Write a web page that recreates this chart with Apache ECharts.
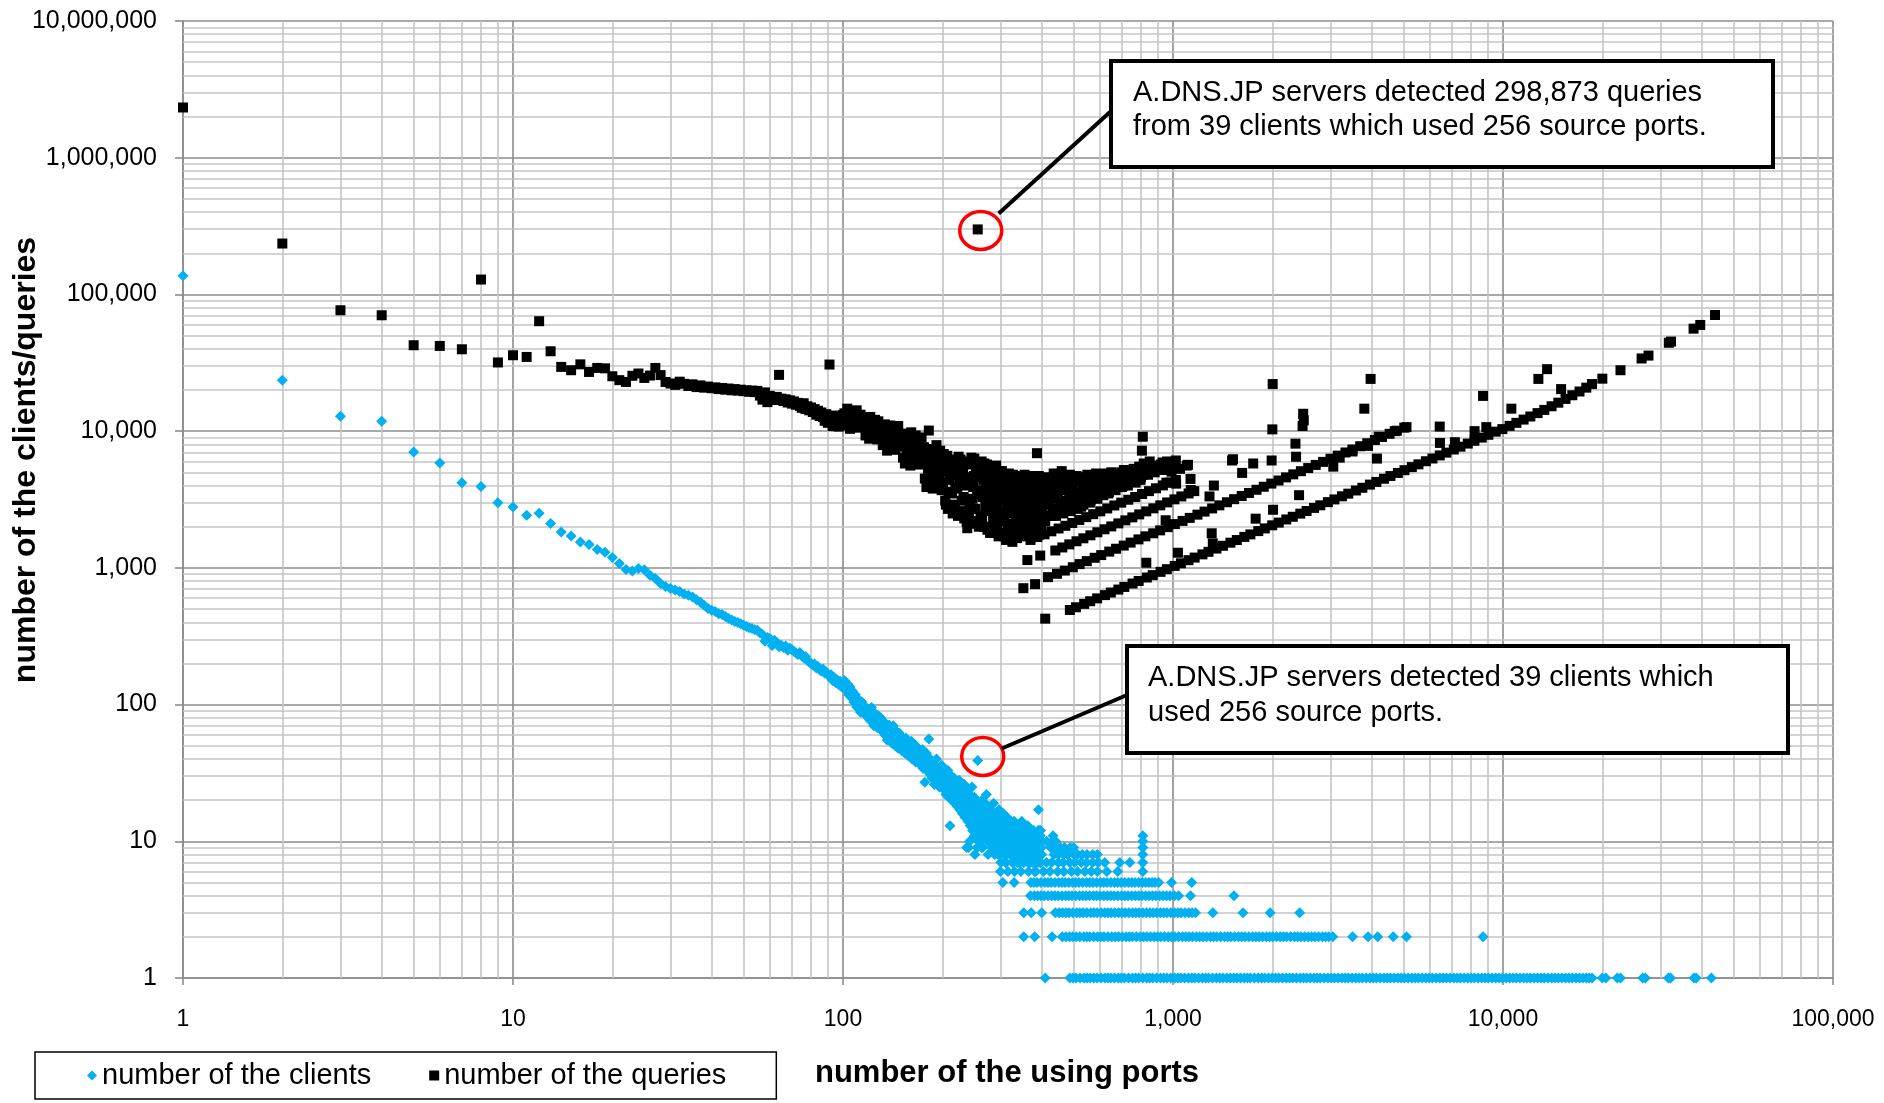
<!DOCTYPE html>
<html><head><meta charset="utf-8">
<script src="https://cdn.jsdelivr.net/npm/echarts@6.0.0/dist/echarts.min.js"></script>
<style>html,body{margin:0;padding:0;background:#fff}#main{width:1884px;height:1103px}</style>
</head><body><div id="main"></div>
<script>
// ---------- tick values ----------
const xTicks = [1, 10, 100, 1000, 10000, 100000];
const yTicks = [1, 10, 100, 1000, 10000, 100000, 1000000, 10000000];
const minorMultipliers = [2, 3, 4, 5, 6, 7, 8, 9];

// ---------- number of the clients ----------
const clientsHead = [[1,137000],[2,23600],[3,12850],[4,11800],[5,7050],[6,5850],[7,4200],[8,3940],[9,3000],[10,2790],
[11,2430],[12,2510],[13,2110],[14,1830],[15,1710],[16,1545],[17,1480],[18,1360],[19,1300],[20,1190],
[21,1075],[22,972],[23,949],[24,988],[25,970],[26,883],[27,835],[28,768],[29,730],[30,706],
[31,690],[32,672],[33,645],[34,630],[35,612],[36,585],[37,560],[38,530],[39,505],[40,490],
[41,480],[42,462],[43,455],[44,440],[45,426],[46,415],[47,405],[48,398],[49,390],[50,380],
[51,372],[52,365],[53,360],[54,352],[55,349],[56,335],[57,325],[58,290],[59,310],[60,304],
[61,270],[62,295],[63,285],[64,265],[65,272],[66,262],[67,268],[68,250],[69,258],[70,252],
[71,245],[72,238],[73,232],[74,240],[75,228],[76,220],[77,225],[78,210],[79,205],[80,200],
[81,195],[82,198],[83,185],[84,190],[85,180],[86,176],[87,182],[88,170],[89,172],[90,166],
[91,160],[92,165],[93,150],[94,158],[95,145],[96,152],[97,140],[98,148],[99,135],[100,138]];

const clientsBand = [[101,150],[102,128],[103,142],[104,118],[105,135],[106,112],[107,125],[108,104],[109,118],[110,96],
[111,110],[112,100],[113,88],[114,105],[115,92],[116,98],[117,84],[118,94],[119,80],[120,90],
[121,76],[122,95],[123,82],[124,70],[125,86],[126,78],[127,68],[128,83],[129,72],[130,80],
[131,64],[132,76],[133,74],[134,60],[135,72],[136,55],[137,68],[138,71],[139,58],[140,66],
[141,52],[142,70],[143,60],[144,50],[145,64],[146,56],[147,48],[148,62],[149,53],[150,58],
[151,46],[152,55],[153,50],[154,44],[155,57],[156,48],[157,52],[158,42],[159,50],[160,45],
[161,54],[162,40],[163,47],[164,43],[165,51],[166,38],[167,45],[168,41],[169,48],[170,39],
[171,44],[172,36],[173,42],[174,47],[175,34],[176,40],[177,27],[178,38],[179,44],[180,33],
[181,37],[182,56],[183,31],[184,40],[185,35],[186,29],[187,38],[188,33],[189,26],[190,36],
[191,31],[192,40],[193,28],[194,34],[195,30],[196,25],[197,33],[198,29],[199,36],[200,27],
[201,31],[202,24],[203,34],[204,28],[205,22],[206,30],[207,26],[208,33],[209,21],[210,27],
[211,13],[212,24],[213,30],[214,20],[215,26],[216,23],[217,29],[218,19],[219,25],[220,22],
[221,27],[222,18],[223,24],[224,21],[225,28],[226,17],[227,23],[228,20],[229,25],[230,16],
[231,22],[232,19],[233,26],[234,15],[235,21],[236,18],[237,9],[238,24],[239,14],[240,20],
[241,17],[242,22],[243,13],[244,19],[245,16],[246,25],[247,12],[248,18],[249,15],[250,21],
[251,8],[252,14],[253,17],[254,11],[255,19],[256,39],[257,13],[258,16],[259,10],[260,18],
[262,14],[264,20],[266,11],[268,16],[270,13],[272,22],[274,10],[276,15],[278,12],[280,17],
[282,9],[284,14],[286,19],[288,11],[290,13],[292,16],[294,10],[296,12],[298,15],[300,9],
[302,14],[304,11],[306,16],[308,8],[310,13],[312,10],[314,15],[316,12],[318,9],[320,11],
[322,14],[325,10],[328,12],[331,8],[334,13],[337,9],[340,11],[343,7],[346,12],[349,10],
[352,8],[355,13],[358,9],[361,11],[364,7],[367,10],[370,12],[373,8],[376,9],[379,11],
[382,7],[385,10],[388,8],[391,17],[394,9],[397,12],[400,8]];
const clientsBandExtra = [[261,12],[263,17],[265,9],[267,14],[269,19],[271,11],[273,15],[275,8],[277,18],[279,13],
[281,10],[283,16],[285,12],[287,9],[289,15],[291,11],[293,14],[295,8],[297,17],[299,10],
[301,12],[303,9],[305,15],[307,11],[309,13],[311,7],[313,12],[315,9],[317,14],[319,10],
[321,8],[323,12],[324,9],[326,13],[327,7],[329,10],[330,14],[332,9],[333,11],[335,8],
[336,12],[338,10],[339,7],[341,13],[342,9],[344,11],[345,8],[347,10],[348,14],[350,9],
[351,11],[353,7],[354,12],[356,9],[357,10],[359,8],[360,12],[362,9],[363,13],[365,8],
[366,11],[368,9],[369,7],[371,10],[372,8],[374,11],[375,7],[377,9],[378,12],[380,8],
[381,10],[383,9],[384,6],[386,11],[387,8],[389,10],[390,7],[392,9],[393,12],[395,8],
[396,10],[398,7],[399,9]];

// ports at which a given small client count was observed
const row1Ports = [410,487,508,538,561,589,622,648,683,712,754,787,833,868,917,958,1012,1057,1114,1163,1228,1281,1354,1417,1493,1561,1645,1716,1813,1897,1998,2091,2204,2306,2431,2540,2676,2795,2947,3084,3251,3398,3583,3748,3952,4133,4358,4559,4803,5028,5294,5543,5839,6112,6433,6738,7094,7431,7822,8191,8623,9031,9504,9957,10472,10978,11548,12103,12729,13341,14035,14712,15470,16221,17055,17881,18612,20000,20500,22200,22700,26500,27000,31700,32200,37900,38500,42800];
const row1PortsB = [498,523,549,575,605,635,665,697,733,770,810,850,892,937,985,1035,1085,1140,1195,1255,1318,1385,1455,1527,1603,1680,1765,1855,1948,2045,2147,2255,2368,2485,2608,2735,2870,3015,3167,3325,3490,3665,3850,4042,4245,4458,4680,4915,5160,5418,5690,5975,6272,6585,6915,7262,7625,8005,8405,8825,9265,9730,10215,10725,11262,11825,12415,13035,13685,14370,15090,15845,16635,17465,18250];
const row2Ports = [353,381,430,462,486,509,537,559,591,618,652,684,721,753,796,833,877,918,967,1013,1068,1118,1177,1232,1298,1357,1433,1497,1578,1652,1743,1822,1918,2006,2113,2211,2334,2441,2569,2690,2834,2966,3050,3500,3900,4170,4650,5100,8700];
const row2PortsB = [474,497,522,548,575,604,635,668,702,737,774,814,855,897,942,990,1040,1093,1147,1204,1265,1327,1395,1465,1537,1615,1697,1782,1870,1962,2060,2162,2272,2387,2505,2630,2762,2900];
const row3Ports = [353,372,400,440,463,484,511,534,563,589,621,649,684,716,754,789,831,871,916,959,1011,1058,1116,1170,1320,1630,1970,2420];
const row3PortsB = [452,474,497,522,548,576,605,635,666,700,735,771,810,851,893,937,985,1035,1087,1143];
const row4Ports = [370,389,407,429,449,473,494,521,545,574,601,633,663,698,731,769,805,847,887,933,979,1040,1130,1530];
const row4PortsB = [380,398,418,439,461,483,507,533,559,587,617,648,680,714,750,787,826,867,910,956,1010];
const row5Ports = [305,330,371,387,409,427,451,471,496,519,547,572,603,631,665,696,733,767,807,845,882,905,990,1140];
const row5PortsB = [379,398,418,439,461,483,507,533,559,587,617,648,680,714,750,787,826,864];
const row6Ports = [300,316,331,346,365,381,405,424,447,467,492,514,541,565,590,630,680,810];
const row7Ports = [301,312,326,337,353,365,382,396,414,429,449,465,486,504,527,547,571,593,621,690,740,810];
const row8Ports = [288,300,313,324,361,372,386,396,436,449,466,479,501,514,531,549,571,590,810];
const row9Ports = [240,255,263,295,306,317,329,366,380,395,426,440,456,469,488,500,810];
const row10Ports = [242,257,291,304,331,344,361,379,401,414,431,441,810];
const row11Ports = [250,268,285,362,380,396,433,810];
const row12Ports = [268,282,299,325,342,359,390];
const clientRows = [[1,row1Ports],[1,row1PortsB],[2,row2Ports],[2,row2PortsB],[3,row3Ports],[3,row3PortsB],
  [4,row4Ports],[4,row4PortsB],[5,row5Ports],[5,row5PortsB],[6,row6Ports],
  [7,row7Ports],[8,row8Ports],[9,row9Ports],[10,row10Ports],[11,row11Ports],[12,row12Ports]];

// ---------- number of the queries ----------
const queriesHead = [[1,2330000],[2,235700],[3,76600],[4,70400],[5,42500],[6,42000],[7,39700],[8,128500],[9,31800],[10,35900],
[11,34900],[12,63700],[13,38400],[14,29500],[15,27900],[16,30800],[17,27100],[18,29000],[19,28800],[20,25200],
[21,23600],[22,22900],[23,25400],[24,26400],[25,24500],[26,25500],[27,29000],[28,25700],[29,22900],[30,22300],
[31,21800],[32,23000],[33,22200],[34,21400],[35,22000],[36,21000],[37,21600],[38,20800],[39,21200],[40,20600],
[41,20900],[42,20300],[43,20700],[44,20100],[45,20500],[46,19900],[47,20300],[48,19800],[49,20100],[50,19600],
[51,19900],[52,19400],[53,19800],[54,19300],[55,19700],[56,18200],[57,17000],[58,19200],[59,16300],[60,18100],
[61,17500],[62,16900],[63,17800],[64,25800],[65,17300],[66,16600],[67,17100],[68,16200],[69,16800],[70,15900],
[71,16500],[72,15600],[73,16100],[74,15300],[75,14800],[76,16000],[77,14500],[78,15200],[79,14200],[80,14900],
[81,13800],[82,14500],[83,13200],[84,14100],[85,12900],[86,13700],[87,12700],[88,11900],[89,13300],[90,11500],
[91,30700],[92,12400],[93,10900],[94,13000],[95,11800],[96,12600],[97,10800],[98,12200],[99,11300],[100,13100]];

const queriesCluster = [[101,13500],[102,11000],[103,14600],[104,12200],[105,10400],[106,13900],[107,11700],[108,12800],[109,10900],[110,14200],
[111,12000],[112,10600],[113,13200],[114,11400],[115,12600],[116,12400],[117,9300],[118,11600],[119,10200],[120,8800],
[121,12700],[122,9800],[123,11100],[124,9000],[125,12100],[126,10500],[127,8700],[128,11800],[129,9500],[130,10800],
[131,10800],[132,7900],[133,9600],[134,11200],[135,8400],[136,7200],[137,10100],[138,8900],[139,11000],[140,7600],
[141,9200],[142,10500],[143,8100],[144,7300],[145,9900],[146,8600],[147,10900],[148,7700],[149,9400],[150,8300],
[151,9600],[152,6400],[153,8200],[154,5800],[155,9100],[156,7000],[157,6000],[158,8700],[159,7500],[160,5600],
[161,9800],[162,6700],[163,8000],[164,6200],[165,7300],[166,9300],[167,5900],[168,7800],[169,6500],[170,8500],
[171,5700],[172,7100],[173,9000],[174,6300],[175,7600],[176,7600],[177,4500],[178,6200],[179,3900],[180,7100],
[181,5300],[182,10100],[183,4100],[184,6700],[185,4800],[186,5800],[187,3800],[188,7400],[189,5000],[190,6000],
[191,4300],[192,7900],[193,5500],[194,4000],[195,6500],[196,4600],[197,7200],[198,5100],[199,3700],[200,6300],
[202,6800],[204,3100],[206,5200],[208,2700],[210,4400],[211,2800],[212,6200],[214,3500],[216,5600],[218,2900],
[220,4800],[222,3800],[224,6500],[226,2600],[228,4200],[230,5300],[232,3300],[234,6000],[236,2400],[237,2170],
[238,1950],[240,4600],[242,3000],[244,5700],[246,2200],[248,3900],[250,6300],[252,2700],[254,4900],[256,298873],
[257,3400],[258,2000],[260,5400],[262,3600],[264,2300],[266,4400],[268,5800],[270,2800],[272,3900],[274,1900],
[276,5000],[278,3100],[280,4300],[282,1800],[284,5500],[286,2500],[288,3700],[290,2100],[292,4700],[294,3000],
[296,1700],[298,4100],[300,2600],[302,4600],[304,1800],[306,3200],[308,2300],[310,4200],[312,1600],[314,3600],
[316,2700],[318,4900],[320,2000],[323,3900],[326,1550],[329,2900],[332,4500],[335,2200],[338,3400],[341,1700],
[344,4100],[347,2600],[350,3000],[355,4800],[358,1900],[361,3700],[364,2400],[367,4300],[373,3300],[376,2800],
[379,4600],[385,2100],[387,6900],[390,3800],[393,1750],[398,3100],[400,4400],
[405,3500],[410,2200],[415,4600],[420,2900],[425,3900],[430,2400],[435,4900],[440,3200],[445,2600],[450,4200],
[455,3000],[460,5100],[465,2500],[470,3700],[475,2800],[480,4500],[485,3300],[490,2600],[495,4000],[500,3100],
[510,4700],[515,2700],[520,3600],[530,4300],[535,2900],[540,3300],[550,4800],[555,3900],[560,3000],[570,4400],
[580,3500],[585,4900],[590,3200],[600,4100],[610,4800],[615,3400],[620,3800],[630,4500],[640,3600],[650,5000],
[660,4000],[670,3700],[680,4200],[690,4700],[700,3900],[710,5200],[720,4300],[730,4000],[740,4800],[750,4400],
[760,5300],[770,4200],[780,4900],[790,5500],[800,4600],[820,5000],[830,5400],[840,4800],[850,6000],[860,5200],
[870,5600],[880,5000],[900,5300],[920,5700],[940,5200],[960,6000],[980,5400],[1000,5500],[1050,5300],[1100,5600]];
const queriesClusterExtra = [[201,4200],[203,5900],[205,2900],[207,6600],[209,3600],[213,4900],[215,2500],[217,6100],[219,3900],[221,5400],
[223,2400],[225,4500],[227,6200],[229,3100],[231,5000],[233,2300],[235,4000],[239,5900],[241,2600],[243,4300],
[245,6400],[247,3200],[249,4700],[251,2100],[253,5200],[255,3700],[259,4600],[261,2400],[263,6000],[265,3300],
[267,2000],[269,4900],[271,3500],[273,5700],[275,2600],[277,4100],[279,1800],[281,5200],[283,3400],[285,2200],
[287,4800],[289,2900],[291,5600],[293,1900],[295,3800],[297,5100],[299,2300],
[301,3500],[303,5100],[305,2200],[307,4000],[309,1700],[311,3100],[313,4700],[315,2000],[317,3900],[319,2500],
[321,4400],[322,1800],[324,3200],[325,2700],[327,4800],[328,2100],[330,3600],[331,1900],[333,2500],[334,4200],
[336,3000],[337,1650],[339,4700],[340,2300],[342,3600],[343,2800],[345,1900],[346,4400],[348,3200],[349,2100],
[351,4000],[353,2700],[354,1800],[356,3400],[357,4500],[359,2300],[360,2900],[363,4100],[365,1700],[366,3500],
[368,2600],[369,4700],[371,2000],[372,3800],[374,2400],[375,4200],[377,1700],[378,3100],[380,2300],[381,4400],
[383,3600],[384,1900],[386,2700],[388,4100],[389,2400],[391,3300],[392,4700],[394,2100],[395,3800],[397,2700],[399,1900],
[402,2500],[407,4100],[412,3000],[417,2400],[422,4400],[427,3300],[432,2700],[437,4000],[442,2400],[447,3600],
[452,4800],[457,2700],[462,3900],[467,4500],[472,3100],[477,4100],[482,2700],[487,4800],[492,3600],[497,2800],
[503,4300],[506,3500],[512,3000],[518,4400],[524,3300],[527,2800],[533,3900],[538,4600],[544,3100],[547,4100],
[553,3500],[558,4500],[563,3100],[567,4000],[574,3300],[577,4700],[583,3800],[588,4300],[594,3400],[597,4600],
[604,3600],[607,4300],[612,3500],[618,4400],[624,3700],[627,4900],[634,4100],[637,3500],[644,4400],[647,3800],
[654,4200],[657,4700],[664,3800],[667,4400],[674,4800],[677,4100],[684,3900],[687,4500],[694,4100],[697,5000],
[704,4500],[707,4000],[714,4700],[717,4200],[724,4900],[727,4500],[734,4300],[737,5000],[744,4600],[747,5100],
[754,4800],[757,4300],[764,5000],[767,4600],[774,5100],[777,4700],[784,5200],[787,4800],[794,5000],[797,4400],
[805,5100],[812,4800],[825,5200],[835,5000],[845,5300],[855,5100],[865,5400],[875,5300],[890,5500],[910,5400],
[930,5900],[950,5600],[970,5800],[990,5700]];

const queriesLine1 = [[410,425],[487,492],[508,515],[538,545],[561,570],[589,598],[622,632],[648,660],[683,694],[712,725],
[754,768],[787,802],[833,850],[868,885],[917,935],[958,978],[1012,1033],[1057,1080],[1114,1138],[1163,1189],
[1228,1255],[1281,1310],[1354,1384],[1417,1450],[1493,1528],[1561,1598],[1645,1684],[1716,1757],[1813,1857],[1897,1943],
[1998,2047],[2091,2143],[2204,2259],[2306,2364],[2431,2493],[2540,2605],[2676,2745],[2795,2868],[2947,3025],[3084,3166],
[3251,3338],[3398,3490],[3583,3681],[3748,3852],[3952,4063],[4133,4251],[4358,4484],[4559,4693],[4803,4946],[5028,5180],
[5294,5457],[5543,5716],[5839,6024],[6112,6310],[6433,6645],[6738,6965],[7094,7340],[7431,7695],[7822,8110],[8191,8505],
[8623,8965],[9031,9405],[9504,9915],[9957,10350],[10472,10930],[10978,11500],[11548,12150],[12103,12800],[12729,13550],[13341,14300],
[14035,15200],[14712,16150],[15470,17200],[16221,18300],[17055,19500],[17881,20800],[18612,22100],[20000,24200],[22700,27900],[26300,34000],
[27600,35700],[31800,44300],[32300,45200],[37800,56200],[39600,59800],[43900,70700]];
const queriesLine2 = [[352,710],[382,760],[418,855],[445,905],[470,955],[497,1010],[521,1065],[548,1120],[579,1185],[606,1240],
[641,1315],[672,1380],[709,1455],[744,1530],[786,1615],[825,1700],[871,1790],[914,1880],[964,1985],[1013,2090],
[1069,2205],[1124,2320],[1186,2450],[1246,2580],[1314,2720],[1382,2865],[1457,3020],[1532,3180],[1615,3355],[1699,3530],
[1791,3725],[1884,3920],[1986,4135],[2089,4355],[2201,4590],[2315,4830],[2441,5095],[2569,5370],[2707,5660],[2849,5960],
[3001,6285],[3158,6620],[3331,6985],[3498,7340],[3692,7755],[3879,8155],[4091,8610],[4298,9055],[4532,9560],[4769,10070],[5021,10610]];
const queriesLine3 = [[362,1140],[396,1230],[440,1340],[462,1410],[485,1485],[510,1565],[535,1645],[562,1730],[590,1820],[620,1915],
[650,2010],[683,2115],[717,2225],[753,2340],[790,2460],[830,2590],[872,2725],[915,2865],[960,3010],[1010,3170],[1060,3330],[1115,3500],[1160,3640]];
const queriesLine4 = [[370,1600],[388,1680],[408,1760],[428,1850],[450,1940],[472,2030],[495,2130],[520,2240],[546,2350],[573,2470],
[602,2590],[632,2720],[664,2860],[697,3000],[732,3150],[768,3300],[806,3470],[846,3640],[888,3820],[932,4010],[980,4210],[1020,4390]];
const queriesScattered = [[805,7200],[810,9100],[815,5800],[830,1090],[950,2230],[955,4200],[990,5050],[1020,6100],[1022,4130],[1035,1290],
[1110,5670],[1130,4470],[1132,3710],[1290,3330],[1310,1790],[1320,1510],[1330,4000],[1510,6100],[1520,6230],[1620,4950],
[1750,5800],[1780,2290],[1990,6100],[2000,10300],[2010,2660],[2005,22100],[2350,8100],[2360,6500],[2410,3400],[2480,13400],
[2490,12000],[2470,10900],[3060,5500],[3200,6400],[3500,7100],[3800,14600],[3900,7800],[3970,24100],[4150,6300],[4200,9100],
[4700,10000],[5100,10700],[6430,10800],[6440,8200],[7150,8300],[8200,10000],[8700,18100],[8900,10700],[10600,14600],[12800,24100],
[13600,28400],[15000,20300]];

// ---------- assembly ----------
const clientsData = clientsHead.concat(clientsBand, clientsBandExtra,
  clientRows.flatMap(([count, ports]) => ports.map(p => [p, count])));
const queriesData = queriesHead.concat(queriesCluster, queriesClusterExtra, queriesLine1, queriesLine2, queriesLine3, queriesLine4, queriesScattered);

const xMinor = [], yMinor = [];
xTicks.slice(0, -1).forEach(d => minorMultipliers.forEach(m => xMinor.push(d * m)));
yTicks.slice(0, -1).forEach(d => minorMultipliers.forEach(m => yMinor.push(d * m)));

const FONT = "'Liberation Sans', Arial, sans-serif";
const fmt = v => String(Math.round(v)).replace(/\B(?=(\d{3})+(?!\d))/g, ',');
const MAJOR = '#8c8c8c', MINOR = '#c4c4c4';

const chart = echarts.init(document.getElementById('main'), null, {renderer: 'canvas'});
const option = {
  animation: false,
  backgroundColor: '#ffffff',
  grid: {left: 183, top: 21, width: 1650, height: 957},
  xAxis: {
    type: 'log', logBase: 10, min: xTicks[0], max: xTicks[xTicks.length - 1],
    axisLine: {lineStyle: {color: MAJOR, width: 1.6}},
    axisTick: {show: true, inside: false, length: 7, lineStyle: {color: MAJOR, width: 1.6}},
    axisLabel: {formatter: fmt, fontFamily: FONT, fontSize: 23, color: '#000', margin: 30, showMinLabel: true, showMaxLabel: true},
    splitLine: {show: true, lineStyle: {color: MAJOR, width: 1.6}}
  },
  yAxis: {
    type: 'log', logBase: 10, min: yTicks[0], max: yTicks[yTicks.length - 1],
    axisLine: {lineStyle: {color: MAJOR, width: 1.6}},
    axisTick: {show: true, inside: false, length: 8, lineStyle: {color: MAJOR, width: 1.6}},
    axisLabel: {formatter: fmt, fontFamily: FONT, fontSize: 25, color: '#000', margin: 26, showMinLabel: true, showMaxLabel: true},
    splitLine: {show: true, lineStyle: {color: MAJOR, width: 1.6}}
  },
  legend: {
    data: [{name: 'number of the clients', icon: 'diamond'}, {name: 'number of the queries', icon: 'rect'}],
    left: 35, top: 1052, orient: 'horizontal',
    itemWidth: 10, itemHeight: 10, itemGap: 58,
    padding: [9, 50, 9, 52],
    borderColor: '#000', borderWidth: 1.5, backgroundColor: '#fff',
    textStyle: {fontFamily: FONT, fontSize: 29, color: '#000'}
  },
  series: [
    {
      name: 'minor-grid', type: 'scatter', data: [], z: 1, silent: true,
      markLine: {
        z: 1, silent: true, symbol: ['none', 'none'], label: {show: false}, animation: false,
        lineStyle: {color: MINOR, width: 1.6, type: 'solid', opacity: 1},
        emphasis: {disabled: true},
        data: xMinor.map(v => ({xAxis: v})).concat(yMinor.map(v => ({yAxis: v})))
      }
    },
    {
      name: 'number of the clients', type: 'scatter', data: clientsData, z: 10, silent: true,
      symbol: 'diamond', symbolSize: 11, itemStyle: {color: '#00b0f0', opacity: 1}
    },
    {
      name: 'number of the queries', type: 'scatter', data: queriesData, z: 11, silent: true,
      symbol: 'rect', symbolSize: 10, itemStyle: {color: '#000000', opacity: 1}
    }
  ]
};
chart.setOption(option);

const p1 = chart.convertToPixel({gridIndex: 0}, [256, 298873]);
const p2 = chart.convertToPixel({gridIndex: 0}, [256, 39]);
const c1 = [p1[0] + 3, p1[1] + 1];
const c2 = [p2[0] + 5, p2[1] - 4];

chart.setOption({
  graphic: {elements: [
    {type: 'text', x: 1007, y: 1073, z: 100,
      style: {text: 'number of the using ports', fontFamily: FONT, fontSize: 31, fontWeight: 'bold', fill: '#000', align: 'center', verticalAlign: 'middle'}},
    {type: 'text', x: 26, y: 460, rotation: Math.PI / 2, z: 100,
      style: {text: 'number of the clients/queries', fontFamily: FONT, fontSize: 32, fontWeight: 'bold', fill: '#000', align: 'center', verticalAlign: 'middle'}},
    {type: 'ellipse', z: 100, shape: {cx: c1[0], cy: c1[1], rx: 21, ry: 19},
      style: {fill: null, stroke: '#ff0000', lineWidth: 3.5}},
    {type: 'ellipse', z: 100, shape: {cx: c2[0], cy: c2[1], rx: 21, ry: 19},
      style: {fill: null, stroke: '#ff0000', lineWidth: 3.5}},
    {type: 'line', z: 100, shape: {x1: c1[0] + 18, y1: c1[1] - 17, x2: 1110, y2: 112},
      style: {stroke: '#000', lineWidth: 4}},
    {type: 'line', z: 100, shape: {x1: c2[0] + 19, y1: c2[1] - 8, x2: 1127, y2: 695},
      style: {stroke: '#000', lineWidth: 4}},
    {type: 'rect', z: 100, shape: {x: 1111, y: 61, width: 662, height: 106},
      style: {fill: '#fff', stroke: '#000', lineWidth: 4}},
    {type: 'text', x: 1133, y: 76, z: 101,
      style: {text: 'A.DNS.JP servers detected 298,873 queries\nfrom 39 clients which used 256 source ports.',
        fontFamily: FONT, fontSize: 29, lineHeight: 34, fill: '#000', align: 'left', verticalAlign: 'top'}},
    {type: 'rect', z: 100, shape: {x: 1127, y: 646, width: 661, height: 107},
      style: {fill: '#fff', stroke: '#000', lineWidth: 4}},
    {type: 'text', x: 1148, y: 660, z: 101,
      style: {text: 'A.DNS.JP servers detected 39 clients which\nused 256 source ports.',
        fontFamily: FONT, fontSize: 29, lineHeight: 35, fill: '#000', align: 'left', verticalAlign: 'top'}}
  ]}
});
</script></body></html>
